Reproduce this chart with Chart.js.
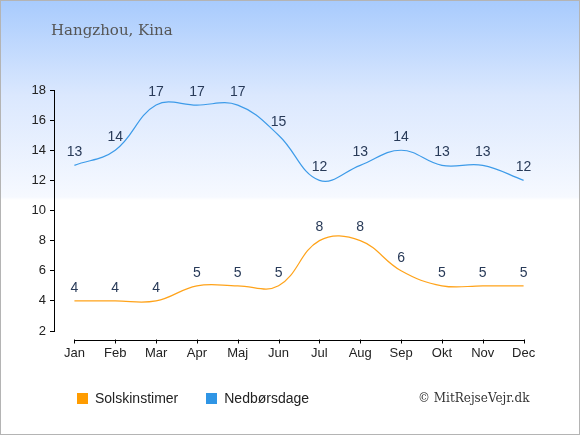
<!DOCTYPE html>
<html>
<head>
<meta charset="utf-8">
<script src="https://cdn.jsdelivr.net/npm/chart.js@4/dist/chart.umd.min.js"></script>
<style>
  html, body { margin: 0; padding: 0; }
  body { width: 580px; height: 435px; overflow: hidden; }
  #wrap {
    position: relative; width: 578px; height: 433px;
    border: 1px solid #b4b4b4;
    background: linear-gradient(to bottom, #a8cbfd 0px, #dbe8fe 95px, #f6f9ff 196px, #ffffff 199px, #ffffff 100%);
  }
  #chart { position: absolute; left: -1px; top: -1px; }
  #title {
    position: absolute; left: 50px; top: 20px;
    font-family: "DejaVu Serif", "Liberation Serif", serif; font-size: 15px; color: #555;
  }
  #legend {
    position: absolute; left: 76px; top: 389px;
    font-family: "Liberation Sans", Arial, sans-serif; font-size: 14px; color: #222;
  }
  #legend span.item { margin-right: 28px; }
  #legend span.box { display: inline-block; width: 11px; height: 11px; margin-right: 7px; vertical-align: -1px; }
  #copy {
    position: absolute; left: 417px; top: 390px;
    font-family: "DejaVu Serif", "Liberation Serif", serif; font-size: 12px; color: #333;
  }
</style>
</head>
<body>
<div id="wrap">
  <canvas id="chart" width="580" height="435"></canvas>
  <div id="title">Hangzhou, Kina</div>
  <div id="legend"></div>
  <div id="copy">© MitRejseVejr.dk</div>
</div>
<script>
const months = ['Jan', 'Feb', 'Mar', 'Apr', 'Maj', 'Jun', 'Jul', 'Aug', 'Sep', 'Okt', 'Nov', 'Dec'];
const solskinstimer = [4, 4, 4, 5, 5, 5, 8, 8, 6, 5, 5, 5];
const nedboersdage = [13, 14, 17, 17, 17, 15, 12, 13, 14, 13, 13, 12];
const yTicks = [2, 4, 6, 8, 10, 12, 14, 16, 18];

const seriesNames = ['Solskinstimer', 'Nedbørsdage'];
const seriesColors = ['#ffa31a', '#3d9be9'];
const legendColors = ['#ff9c00', '#2f95e5'];

// legend built from the series names
const legendEl = document.getElementById('legend');
seriesNames.forEach(function(name, i){
  const item = document.createElement('span');
  item.className = 'item';
  item.innerHTML = '<span class="box" style="background:' + legendColors[i] + '"></span>' + name;
  legendEl.appendChild(item);
});

// value labels over each point + the x axis line drawn below the plot
const pointLabels = {
  id: 'pointLabels',
  afterDatasetsDraw(chart) {
    const ctx = chart.ctx;
    ctx.save();
    ctx.font = '14px "Liberation Sans", Arial, sans-serif';
    ctx.fillStyle = '#283a58';
    ctx.textAlign = 'center';
    ctx.textBaseline = 'middle';
    chart.data.datasets.forEach(function(ds, i){
      chart.getDatasetMeta(i).data.forEach(function(pt, j){
        ctx.fillText(ds.data[j], pt.x, pt.y - 13);
      });
    });
    ctx.restore();
  },
  afterDraw(chart) {
    const ctx = chart.ctx;
    const xs = chart.scales.x;
    const yLine = chart.chartArea.bottom + 9.5;
    ctx.save();
    ctx.strokeStyle = '#000';
    ctx.lineWidth = 1;
    ctx.beginPath();
    ctx.moveTo(Math.round(xs.getPixelForValue(0)) + 0.5, yLine);
    ctx.lineTo(Math.round(xs.getPixelForValue(months.length - 1)) + 0.5, yLine);
    months.forEach(function(m, i){
      const px = Math.round(xs.getPixelForValue(i)) + 0.5;
      ctx.moveTo(px, yLine - 1);
      ctx.lineTo(px, yLine + 3);
    });
    ctx.stroke();
    ctx.restore();
  }
};

const ctx_chart = document.getElementById('chart');
const config_chart = {
  type: 'line',
  data: {
    labels: months,
    datasets: [{
      label: seriesNames[0],
      data: solskinstimer,
      borderColor: seriesColors[0],
      borderWidth: 1.2,
      pointRadius: 0,
      tension: 0.4,
      fill: false
    }, {
      label: seriesNames[1],
      data: nedboersdage,
      borderColor: seriesColors[1],
      borderWidth: 1.2,
      pointRadius: 0,
      tension: 0.4,
      fill: false
    }]
  },
  options: {
    responsive: false,
    animation: false,
    layout: { padding: { left: 0, top: 90, right: 36, bottom: 0 } },
    plugins: {
      legend: { display: false },
      tooltip: { enabled: false }
    },
    scales: {
      x: {
        offset: true,
        border: { display: false },
        grid: { display: false },
        ticks: {
          padding: 7,
          color: '#222',
          font: { family: '"Liberation Sans", Arial, sans-serif', size: 13 },
          maxRotation: 0
        },
        afterFit(scale) { scale.height = 104; }
      },
      y: {
        min: 2,
        max: 18,
        border: { display: true, color: '#000', width: 1 },
        grid: { drawOnChartArea: false, drawTicks: true, tickLength: 4, color: '#000' },
        ticks: {
          stepSize: 2,
          padding: 4,
          color: '#222',
          font: { family: '"Liberation Sans", Arial, sans-serif', size: 13 }
        },
        afterBuildTicks(scale) { scale.ticks = yTicks.map(function(v){ return { value: v }; }); },
        afterFit(scale) { scale.width = 54; }
      }
    }
  },
  plugins: [pointLabels]
};
const myChart = new Chart(ctx_chart, config_chart);
</script>
</body>
</html>
